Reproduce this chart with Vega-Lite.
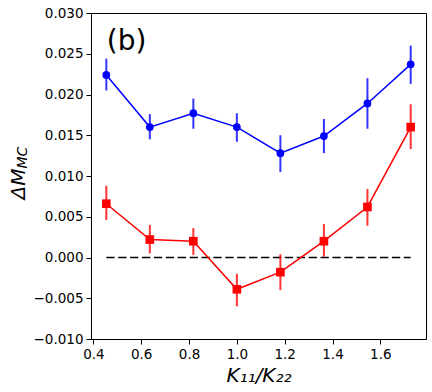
{
  "$schema": "https://vega.github.io/schema/vega-lite/v6.json",
  "autosize": "none",
  "width": 335,
  "height": 326,
  "padding": {"left": 91, "top": 13, "right": 6, "bottom": 53},
  "background": "white",
  "config": {
    "view": {"stroke": "#000000", "strokeWidth": 1},
    "font": "DejaVu Sans",
    "axis": {
      "grid": false,
      "domainColor": "#000000",
      "tickColor": "#000000",
      "labelColor": "#000000",
      "titleColor": "#000000",
      "labelFont": "DejaVu Sans",
      "titleFont": "DejaVu Sans",
      "labelFontSize": 13.5,
      "tickSize": 5,
      "labelPadding": 3,
      "titleFontWeight": "normal"
    }
  },
  "datasets": {
    "pts": [
      {"series": "blue", "x": 0.454, "y": 0.0224, "lo": 0.0205, "hi": 0.0244},
      {"series": "blue", "x": 0.636, "y": 0.0160, "lo": 0.0145, "hi": 0.0176},
      {"series": "blue", "x": 0.818, "y": 0.0177, "lo": 0.0158, "hi": 0.0195},
      {"series": "blue", "x": 1.000, "y": 0.0160, "lo": 0.0142, "hi": 0.0177},
      {"series": "blue", "x": 1.182, "y": 0.0128, "lo": 0.0105, "hi": 0.0150},
      {"series": "blue", "x": 1.364, "y": 0.0149, "lo": 0.0128, "hi": 0.0170},
      {"series": "blue", "x": 1.546, "y": 0.0189, "lo": 0.0158, "hi": 0.0220},
      {"series": "blue", "x": 1.727, "y": 0.0237, "lo": 0.0213, "hi": 0.0260},
      {"series": "red", "x": 0.454, "y": 0.0066, "lo": 0.0046, "hi": 0.0088},
      {"series": "red", "x": 0.636, "y": 0.0022, "lo": 0.0005, "hi": 0.0040},
      {"series": "red", "x": 0.818, "y": 0.0020, "lo": 0.0003, "hi": 0.0036},
      {"series": "red", "x": 1.000, "y": -0.0039, "lo": -0.0060, "hi": -0.0020},
      {"series": "red", "x": 1.182, "y": -0.0018, "lo": -0.0040, "hi": 0.0004},
      {"series": "red", "x": 1.364, "y": 0.0020, "lo": 0.0001, "hi": 0.0041},
      {"series": "red", "x": 1.546, "y": 0.0062, "lo": 0.0039, "hi": 0.0084},
      {"series": "red", "x": 1.727, "y": 0.0160, "lo": 0.0133, "hi": 0.0188}
    ],
    "zero": [
      {"x": 0.454, "y": 0},
      {"x": 1.727, "y": 0}
    ],
    "ann": [
      {"x": 0.456, "y": 0.0254, "label": "(b)"}
    ]
  },
  "layer": [
    {
      "layer": [
        {
          "data": {"name": "zero"},
          "mark": {"type": "line", "color": "#000000", "strokeWidth": 1.5, "strokeDash": [8.3, 3.6]},
          "encoding": {
            "x": {"field": "x", "type": "quantitative"},
            "y": {"field": "y", "type": "quantitative"}
          }
        },
        {
          "data": {"name": "pts"},
          "mark": {"type": "rule", "strokeWidth": 2, "opacity": 0.8},
          "encoding": {
            "x": {"field": "x", "type": "quantitative"},
            "y": {"field": "lo", "type": "quantitative"},
            "y2": {"field": "hi"},
            "color": {"field": "series", "type": "nominal", "scale": {"domain": ["blue", "red"], "range": ["#0000ff", "#ff0000"]}, "legend": null}
          }
        },
        {
          "data": {"name": "pts"},
          "mark": {"type": "line", "strokeWidth": 1.5},
          "encoding": {
            "x": {"field": "x", "type": "quantitative"},
            "y": {"field": "y", "type": "quantitative"},
            "color": {"field": "series", "type": "nominal", "scale": {"domain": ["blue", "red"], "range": ["#0000ff", "#ff0000"]}, "legend": null}
          }
        },
        {
          "data": {"name": "pts"},
          "mark": {"type": "point", "filled": true, "opacity": 1},
          "encoding": {
            "x": {"field": "x", "type": "quantitative"},
            "y": {"field": "y", "type": "quantitative"},
            "color": {"field": "series", "type": "nominal", "scale": {"domain": ["blue", "red"], "range": ["#0000ff", "#ff0000"]}, "legend": null},
            "shape": {"field": "series", "type": "nominal", "scale": {"domain": ["blue", "red"], "range": ["circle", "square"]}, "legend": null},
            "size": {"field": "series", "type": "nominal", "scale": {"domain": ["blue", "red"], "range": [60, 75]}, "legend": null}
          }
        },
        {
          "data": {"name": "ann"},
          "mark": {"type": "text", "font": "DejaVu Sans", "fontSize": 28, "align": "left", "baseline": "alphabetic", "color": "#000000"},
          "encoding": {
            "x": {"field": "x", "type": "quantitative"},
            "y": {"field": "y", "type": "quantitative"},
            "text": {"field": "label"}
          }
        }
      ],
      "encoding": {
        "x": {
          "field": "x", "type": "quantitative",
          "scale": {"domain": [0.390, 1.791], "nice": false, "zero": false},
          "axis": {
            "values": [0.4, 0.6, 0.8, 1.0, 1.2, 1.4, 1.6],
            "format": ".1f",
            "title": "K₁₁/K₂₂",
            "titleFontSize": 20,
            "titleFontStyle": "italic",
            "titlePadding": 5
          }
        },
        "y": {
          "field": "y", "type": "quantitative",
          "scale": {"domain": [-0.010, 0.030], "nice": false, "zero": false},
          "axis": {
            "values": [-0.010, -0.005, 0, 0.005, 0.010, 0.015, 0.020, 0.025, 0.030],
            "format": ".3f",
            "title": "ΔM",
            "titleFontSize": 20,
            "titleFontStyle": "italic",
            "titleAngle": -90,
            "titleAlign": "left",
            "titleBaseline": "alphabetic",
            "titleX": -67,
            "titleY": 186
          }
        }
      }
    },
    {
      "data": {"name": "pts"},
      "mark": {"type": "point", "opacity": 0},
      "encoding": {
        "x": {"field": "x", "type": "quantitative"},
        "y": {
          "field": "y", "type": "quantitative",
          "axis": {
            "orient": "right",
            "labels": false,
            "ticks": false,
            "domain": false,
            "grid": false,
            "title": "MC",
            "titleFontSize": 14,
            "titleFontStyle": "italic",
            "titleAngle": -90,
            "titleAlign": "left",
            "titleBaseline": "alphabetic",
            "titleX": -400,
            "titleY": 155
          }
        }
      }
    }
  ],
  "resolve": {"scale": {"y": "shared"}, "axis": {"y": "independent"}}
}
